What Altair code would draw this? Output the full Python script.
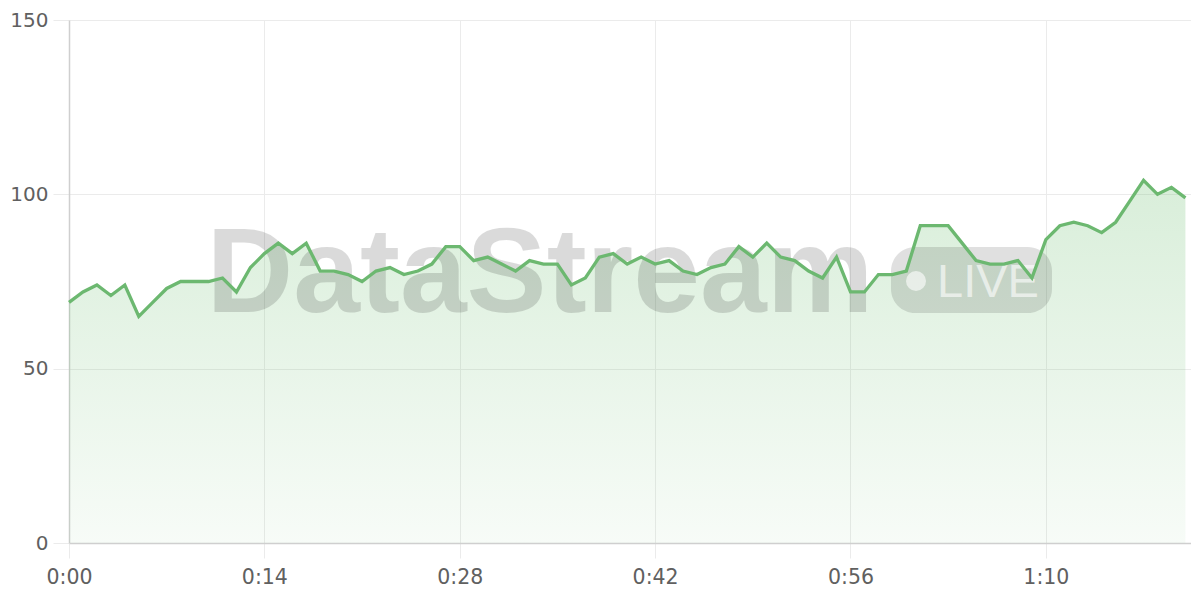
import altair as alt
import pandas as pd

seconds = list(range(81))
values = [69, 72, 74, 71, 74, 65, 69, 73, 75, 75,
          75, 76, 72, 79, 83, 86, 83, 86, 78, 78,
          77, 75, 78, 79, 77, 78, 80, 85, 85, 81,
          82, 80, 78, 81, 80, 80, 74, 76, 82, 83,
          80, 82, 80, 81, 78, 77, 79, 80, 85, 82,
          86, 82, 81, 78, 76, 82, 72, 72, 77, 77,
          78, 91, 91, 91, 86, 81, 80, 80, 81, 76,
          87, 91, 92, 91, 89, 92, 98, 104, 100, 102,
          99]
x_ticks = [0, 14, 28, 42, 56, 70]
y_ticks = [0, 50, 100, 150]
watermark = "DataStream"
badge = "LIVE"

df = pd.DataFrame({"t": seconds, "v": values})
one = pd.DataFrame({"k": [0]})

label_font = "DejaVu Sans"
grid_c = "#ebebeb"

x_enc = alt.X("t:Q", scale=alt.Scale(domain=[0, 80.4], nice=False, zero=False),
              axis=alt.Axis(values=x_ticks, title=None, grid=True, gridColor=grid_c,
                            tickColor=grid_c, tickSize=15, domainColor="#cfcfcf",
                            domainWidth=1.5, labelFlush=False,
                            labelFontSize=20.5, labelColor="#606060", labelFont=label_font,
                            labelPadding=9,
                            labelExpr="floor(datum.value/60) + ':' + (datum.value%60 < 10 ? '0' : '') + (datum.value%60)"))
y_enc = alt.Y("v:Q", scale=alt.Scale(domain=[0, 150], nice=False),
              axis=alt.Axis(values=y_ticks, title=None, grid=True, gridColor=grid_c,
                            tickColor=grid_c, tickSize=16, domainColor="#cfcfcf",
                            domainWidth=1.5,
                            labelFontSize=20, labelColor="#606060", labelFont=label_font,
                            labelPadding=5))

base = alt.Chart(df)

area = base.mark_area(
    color=alt.Gradient(
        gradient="linear",
        stops=[alt.GradientStop(color="rgba(102,187,106,0.25)", offset=0),
               alt.GradientStop(color="rgba(102,187,106,0.05)", offset=1)],
        x1=1, x2=1, y1=0, y2=1),
).encode(x=x_enc, y=y_enc)

wm_text = alt.Chart(one).mark_text(
    text=watermark, font="Liberation Sans", fontWeight="bold", fontSize=120,
    color="#000000", opacity=0.14, align="center", baseline="alphabetic"
).encode(x=alt.value(471), y=alt.value(292))

wm_rect = alt.Chart(one).mark_rect(
    color="#000000", opacity=0.12, cornerRadius=24
).encode(x=alt.value(822), x2=alt.value(983), y=alt.value(227), y2=alt.value(293))

wm_dot = alt.Chart(one).mark_point(
    shape="circle", filled=True, size=400, color="#ffffff", opacity=0.6
).encode(x=alt.value(847), y=alt.value(261))

wm_live = alt.Chart(one).mark_text(
    text=badge, font="Liberation Sans", fontSize=47, color="#ffffff", opacity=0.6,
    align="left", baseline="alphabetic"
).encode(x=alt.value(868), y=alt.value(277))

line = base.mark_line(color="#6cb870", strokeWidth=3.3, strokeJoin="miter").encode(x=x_enc, y=y_enc)

chart = alt.layer(area, wm_text, wm_rect, wm_dot, wm_live, line).properties(
    width=1122, height=523,
    autosize=alt.AutoSizeParams(type="none"),
    padding={"left": 61, "top": 12, "right": 0, "bottom": 49},
).configure_view(stroke=None)

chart.save("out.html", embed_options={"renderer": "svg", "actions": False})
